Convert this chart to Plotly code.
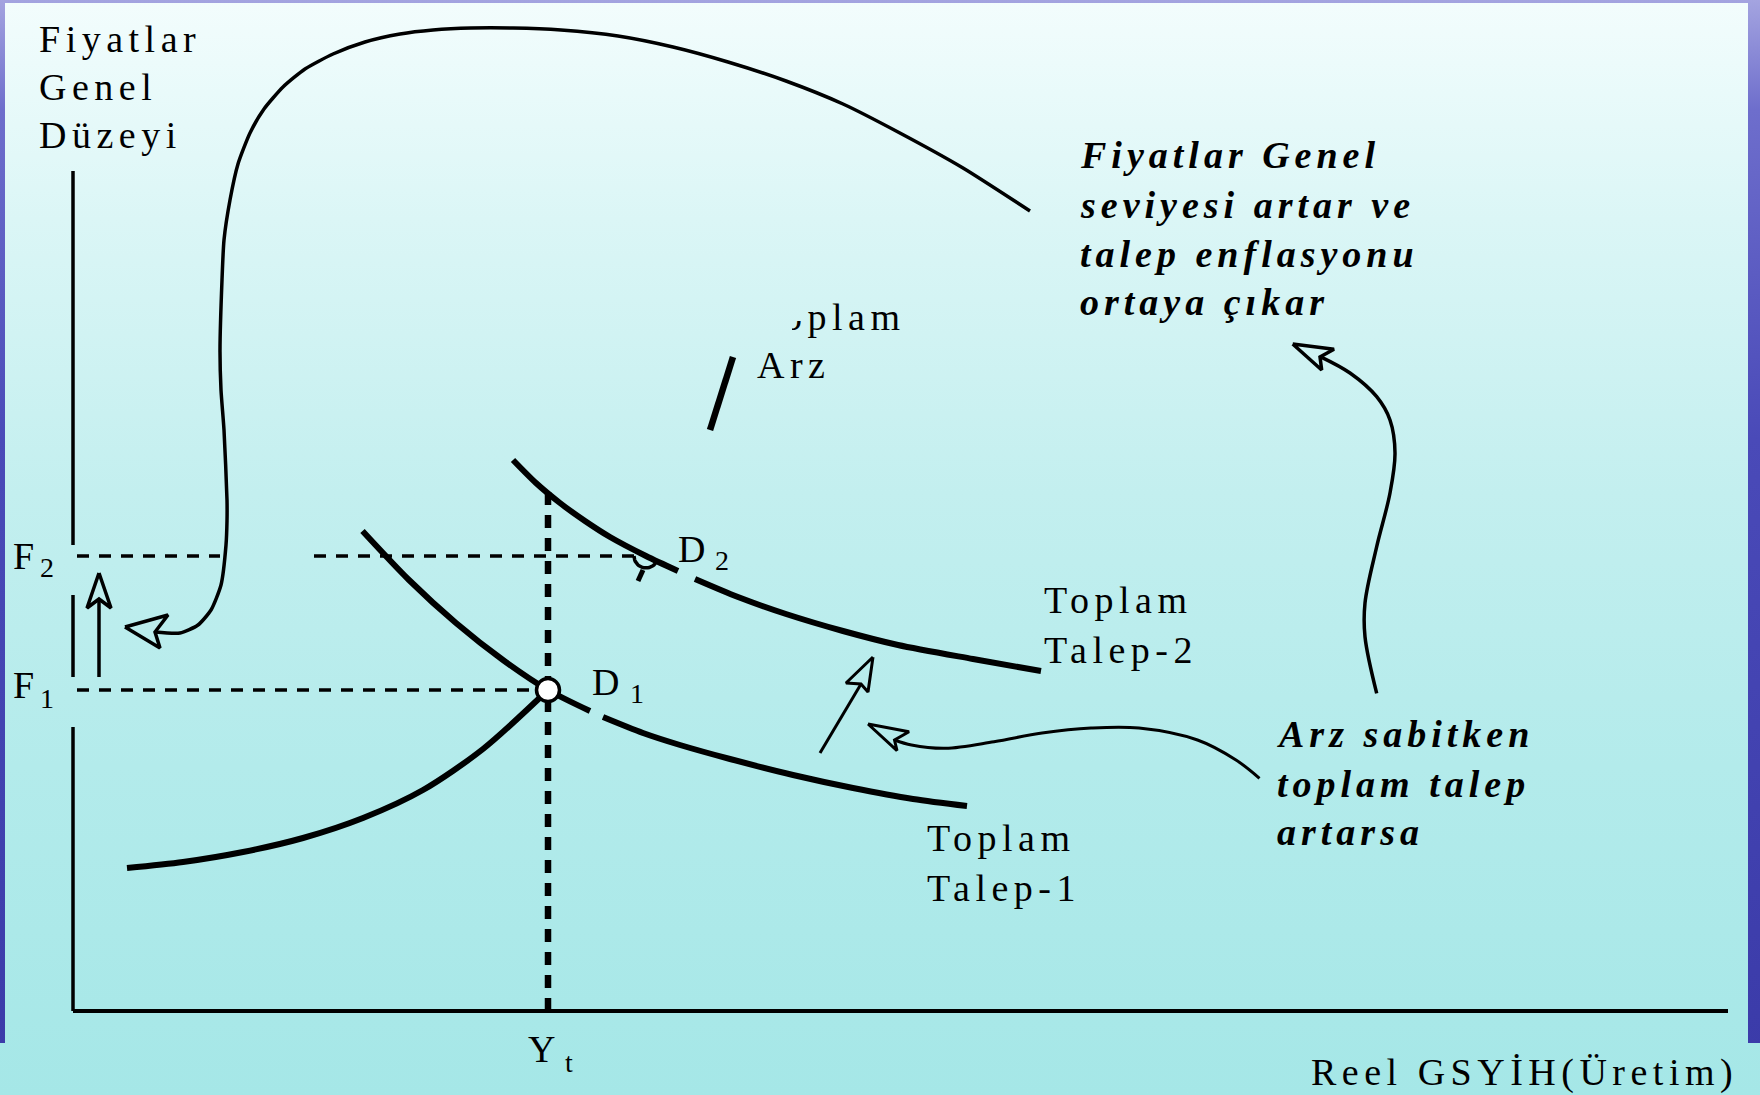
import numpy as np
import plotly.graph_objects as go

# ---------------- data (diagram units: origin at the axes corner) ----------------
F1 = 321            # price level 1
F2 = 455            # price level 2
YT = 475            # real output Y_t
X_AXIS_END = 1655
Y_AXIS_TOP = 840

y_axis_segments = [(840, 466), (416, 334), (284, 0)]
f2_dash_segments = [(4, 147), (241, 572)]
f1_dash_segments = [(4, 477)]
yt_dash_top = 519

# Aggregate demand 1 (two pieces, gap under the D1 label)
td1a_x = [289.5, 336, 383, 430, 475, 517]
td1a_y = [480, 431, 388, 351, 321, 300]
td1b_x = [530, 570, 607, 657, 720, 780, 840, 894]
td1b_y = [294, 278, 266, 252, 236, 223, 212, 205]
# Aggregate demand 2
td2a_x = [440, 463, 487, 512, 537, 573, 605]
td2a_y = [551, 528, 508, 490, 474, 455, 440]
td2b_x = [622, 665, 713, 770, 825, 900, 968]
td2b_y = [432, 414, 397, 380, 366, 352, 340]
# Aggregate supply (visible parts)
as_x = [54, 110, 170, 230, 290, 350, 410, 475]
as_y = [143, 149, 159, 173, 193, 221, 262, 321]
as_frag_x = [637, 660]
as_frag_y = [581, 654]
as_stub_x = [570, 565]
as_stub_y = [441, 430]

# Equilibrium points
d1_point = (YT, F1)
d2_point = (573, F2)

# Curved annotation arrows
big_x = [957, 890, 825, 770, 713, 655, 600, 545, 488, 440, 398, 360, 327, 292, 260, 232, 210, 191, 177, 165,
         157, 151, 149, 147, 148, 151, 154, 154, 153, 148, 138, 125, 107, 82]
big_y = [800, 843, 879, 907, 930, 949, 964, 975, 981, 983, 983, 981, 977, 969, 957, 942, 924, 902, 878, 847,
         811, 771, 731, 661, 621, 581, 511, 490, 466, 426, 401, 386, 378, 379]
big_head_x = [52, 95, 82, 87, 52]
big_head_y = [384, 396, 379, 363, 384]

up_x = [26, 26]
up_y = [334, 412]
up_head_x = [26, 14, 26, 38, 26]
up_head_y = [438, 403, 412, 403, 438]

diag_x = [747, 788]
diag_y = [258, 327]
diag_head_x = [800, 773, 788, 795, 800]
diag_head_y = [354, 328, 327, 319, 354]

wavy_x = [1186.5, 1163, 1124.5, 1066, 1018, 969, 921, 872.4, 838.5, 821.5]
wavy_y = [232.7, 251, 271, 283, 283, 278, 269.3, 262.7, 266, 271]
wavy_head_x = [795, 836, 821.5, 824, 795]
wavy_head_y = [287, 279.3, 271, 260.3, 287]

right_x = [1303.7, 1292, 1292, 1303.7, 1317, 1322, 1317, 1303.7, 1277, 1248.7]
right_y = [317.7, 374.3, 408, 464.3, 518, 558, 591, 614.3, 638, 653.7]
right_head_x = [1219.7, 1261, 1247, 1248.7, 1219.7]
right_head_y = [667, 661.7, 654, 641, 667]

# Labels, one line each (top-left corner of each label box)
label_text = ["Fiyatlar", "Genel", "Düzeyi", "F", "F", "D", "D", "Y",
              "Toplam", "Talep-2", "Toplam", "Talep-1", "Reel GSYİH(Üretim)", "Arz"]
label_x = [-36, -36, -36, -62, -62, 603, 517, 453, 969, 969, 852, 852, 1236, 682]
label_y = [995, 947, 899, 478, 349, 485, 352, -15, 434, 384, 196, 146, -38, 669]

sub_text = ["2", "1", "2", "1", "t"]
sub_x = [-35, -35, 640, 555, 490]
sub_y = [461, 330, 468, 335, -34]

note_text = ["Fiyatlar Genel", "seviyesi artar ve", "talep enflasyonu", "ortaya çıkar",
             "Arz sabitken", "toplam talep", "artarsa"]
note_x = [1005, 1005, 1005, 1005, 1202, 1202, 1202]
note_y = [879, 829, 780, 732, 300, 250, 202]

# supply curve label, partly hidden (drawn as a text trace so it can be covered)
supply_label = "Toplam"
supply_label_x = 684
supply_label_y = 709.5
cover_x = [662, 732, 732, 719, 719, 662, 662]
cover_y = [731, 731, 690, 690, 671, 671, 731]

# ---------------- view / style ----------------
X_RANGE = [-73, 1687]
Y_RANGE = [-84, 1011]
BG_SCALE = [[0, "#a5e7e7"], [0.3, "#b3ebeb"], [0.55, "#c3efef"], [0.8, "#dbf6f6"], [1, "#f3fdfd"]]
BLUE_SCALE = [[0, "#3a3aa8"], [0.6, "#4a4ab8"], [0.9, "#6e6ecc"], [1, "#a4a4e0"]]
FONT = "Liberation Serif"
BLACK = "#000000"

fig = go.Figure()


def add_fill(x, y, scale):
    fig.add_trace(go.Scatter(
        x=x, y=y, mode="lines", fill="toself", line=dict(width=0),
        fillgradient=dict(type="vertical", colorscale=scale, start=Y_RANGE[0], stop=Y_RANGE[1]),
        hoverinfo="skip", showlegend=False))


def add_line(x, y, width, dash=None, shape="linear", smoothing=1.0):
    fig.add_trace(go.Scatter(
        x=x, y=y, mode="lines",
        line=dict(color=BLACK, width=width, dash=dash, shape=shape,
                  smoothing=smoothing if shape == "spline" else None),
        hoverinfo="skip", showlegend=False))


# background
x0, x1 = X_RANGE
y0, y1 = Y_RANGE
add_fill([x0, x1, x1, x0, x0], [y0, y0, y1, y1, y0], BG_SCALE)
# blue slide border
add_fill([x0, x0 + 5, x0 + 5, x0, x0], [-32, -32, y1, y1, -32], BLUE_SCALE)
add_fill([x1 - 12, x1, x1, x1 - 12, x1 - 12], [-32, -32, y1, y1, -32], BLUE_SCALE)
add_fill([x0, x1, x1, x0, x0], [y1 - 3, y1 - 3, y1, y1, y1 - 3], BLUE_SCALE)

# axes
add_line([0, X_AXIS_END], [0, 0], 4)
for a, b in y_axis_segments:
    add_line([0, 0], [a, b], 3.5)

# guide lines
for a, b in f2_dash_segments:
    add_line([a, b], [F2, F2], 3.5, dash="12px,10px")
for a, b in f1_dash_segments:
    add_line([a, b], [F1, F1], 3.5, dash="12px,10px")
add_line([YT, YT], [0, yt_dash_top], 6.5, dash="13px,10px")

# curves
add_line(as_x, as_y, 6, shape="spline", smoothing=0.8)
add_line(as_frag_x, as_frag_y, 6.5)
add_line(as_stub_x, as_stub_y, 5)
add_line(td1a_x, td1a_y, 6, shape="spline", smoothing=0.8)
add_line(td1b_x, td1b_y, 6, shape="spline", smoothing=0.8)
add_line(td2a_x, td2a_y, 6, shape="spline", smoothing=0.8)
add_line(td2b_x, td2b_y, 6, shape="spline", smoothing=0.8)

# D2 (partly hidden circle)
ang = np.linspace(np.pi, 2 * np.pi - 0.5, 24)
add_line(d2_point[0] + 12 * np.cos(ang), d2_point[1] + 12 * np.sin(ang), 3.5)

# D1 marker
fig.add_trace(go.Scatter(
    x=[d1_point[0]], y=[d1_point[1]], mode="markers",
    marker=dict(size=23, color="white", line=dict(color=BLACK, width=3.5)),
    hoverinfo="skip", showlegend=False))

# arrows
add_line(big_x, big_y, 3.5, shape="spline", smoothing=0.6)
add_line(big_head_x, big_head_y, 3.5)
add_line(up_x, up_y, 3.5)
add_line(up_head_x, up_head_y, 3.5)
add_line(diag_x, diag_y, 3)
add_line(diag_head_x, diag_head_y, 3)
add_line(wavy_x, wavy_y, 3, shape="spline")
add_line(wavy_head_x, wavy_head_y, 3)
add_line(right_x, right_y, 3.5, shape="spline")
add_line(right_head_x, right_head_y, 3.5)

# supply label + the cover hiding its start
fig.add_trace(go.Scatter(
    x=[supply_label_x], y=[supply_label_y], text=[supply_label], mode="text",
    textposition="bottom right", textfont=dict(family=FONT, size=38, color=BLACK),
    cliponaxis=False, hoverinfo="skip", showlegend=False))
add_fill(cover_x, cover_y, BG_SCALE)


def ann(tx, xx, yy, size, bold=False):
    return dict(x=xx, y=yy, xref="x", yref="y", text=tx, showarrow=False,
                xanchor="left", yanchor="top", align="left",
                font=dict(family=FONT, size=size, color=BLACK,
                          weight="bold" if bold else "normal",
                          style="italic" if bold else "normal"))


annotations = []
for tx, xx, yy in zip(label_text, label_x, label_y):
    annotations.append(ann(tx, xx, yy, 38))
for tx, xx, yy in zip(sub_text, sub_x, sub_y):
    annotations.append(ann(tx, xx, yy, 28))
for tx, xx, yy in zip(note_text, note_x, note_y):
    annotations.append(ann(tx, xx, yy, 38, bold=True))

fig.update_layout(
    width=1760, height=1095,
    margin=dict(l=0, r=0, t=0, b=0, pad=0),
    paper_bgcolor="#c3efef", plot_bgcolor="rgba(0,0,0,0)",
    xaxis=dict(range=X_RANGE, visible=False, fixedrange=True),
    yaxis=dict(range=Y_RANGE, visible=False, fixedrange=True),
    hovermode=False, showlegend=False,
    annotations=annotations,
)

post = ("var s=document.createElement('style');"
        "s.textContent='html,body{margin:0;padding:0;overflow:hidden;} "
        ".main-svg text{letter-spacing:5.5px;} .main-svg text[style*=\"italic\"]{letter-spacing:5px;}';"
        "document.head.appendChild(s);")
fig.write_html("out.html", post_script=post, config={"displayModeBar": False, "staticPlot": True})
